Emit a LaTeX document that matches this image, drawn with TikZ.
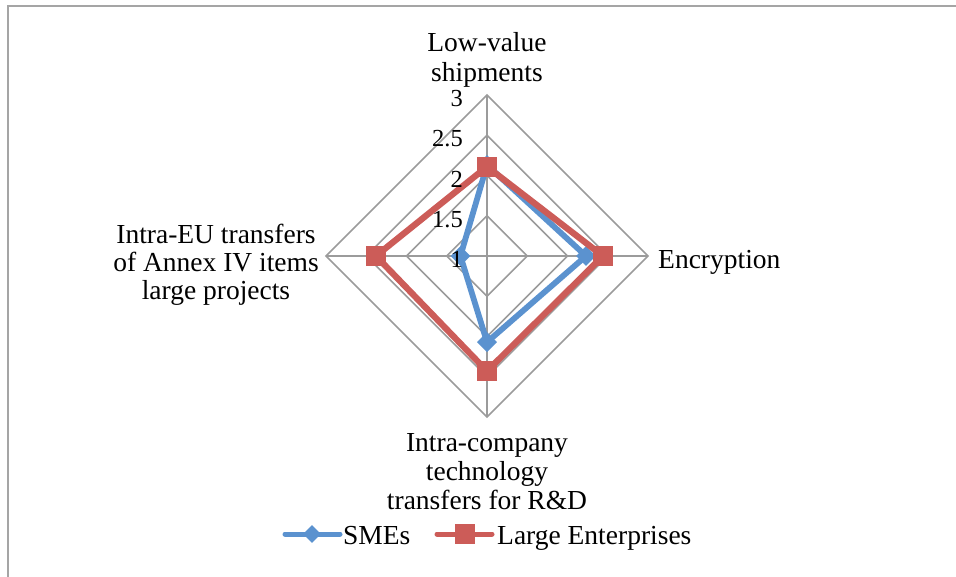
\documentclass[tikz,border=0pt]{standalone}
\usepackage{fontspec}
\setmainfont{Liberation Serif}
\usetikzlibrary{shapes.geometric}
\definecolor{gridgray}{RGB}{155,155,155}
\definecolor{framegray}{RGB}{165,165,165}
\definecolor{smeblue}{RGB}{91,146,207}
\definecolor{largered}{RGB}{204,92,88}
\begin{document}
\begin{tikzpicture}[x=1pt,y=-1pt,
  grid/.style={draw=gridgray, line width=1.6pt},
  axislabel/.style={anchor=base, inner sep=0pt, font=\fontsize{27.5}{30}\selectfont},
  ticklabel/.style={anchor=east, inner sep=0pt, font=\fontsize{24.5}{24.5}\selectfont},
  smeline/.style={draw=smeblue, line width=5.8pt, line join=round, line cap=round},
  largeline/.style={draw=largered, line width=6.3pt, line join=round, line cap=round},
  smemark/.style={diamond, aspect=1, fill=smeblue, inner sep=0pt, minimum width=20pt, minimum height=20pt},
  largemark/.style={rectangle, fill=largered, inner sep=0pt, minimum size=20pt}]
\useasboundingbox (0,0) rectangle (956,577);
% outer chart frame (only top and left edges fall inside the page)
\draw[framegray, line width=2pt] (7.5,580) -- (7.5,6.5) -- (960,6.5);

% radar centre and scale: one unit of value = 80.5pt
\def\cx{487}\def\cy{256}\def\u{80.5}
\coordinate (C) at (\cx,\cy);

% grid rings for 1.5, 2, 2.5, 3
\foreach \v in {1.5,2,2.5,3}{
  \pgfmathsetmacro\r{(\v-1)*\u}
  \draw[grid] (\cx,\cy-\r) -- (\cx+\r,\cy) -- (\cx,\cy+\r) -- (\cx-\r,\cy) -- cycle;
}
% spokes
\pgfmathsetmacro\R{2*\u}
\coordinate (tN) at (\cx,\cy-\R);
\coordinate (tE) at (\cx+\R,\cy);
\coordinate (tS) at (\cx,\cy+\R);
\coordinate (tW) at (\cx-\R,\cy);
\draw[grid] (C) -- (tN) (C) -- (tE) (C) -- (tS) (C) -- (tW);

% SMEs series
\coordinate (s1) at (\cx,{\cy-(2.13-1)*\u});
\coordinate (s2) at ({\cx+(2.23-1)*\u},\cy);
\coordinate (s3) at (\cx,{\cy+(2.07-1)*\u});
\coordinate (s4) at ({\cx-(1.33-1)*\u},\cy);
\draw[smeline] (s1) -- (s2) -- (s3) -- (s4) -- cycle;
\foreach \p in {s1,s2,s3,s4} \node[smemark] at (\p) {};

% Large Enterprises series
\coordinate (l1) at (\cx,{\cy-(2.11-1)*\u});
\coordinate (l2) at ({\cx+(2.44-1)*\u},\cy);
\coordinate (l3) at (\cx,{\cy+(2.43-1)*\u});
\coordinate (l4) at ({\cx-(2.38-1)*\u},\cy);
\draw[largeline] (l1) -- (l2) -- (l3) -- (l4) -- cycle;
\foreach \p in {l1,l2,l3,l4} \node[largemark] at (\p) {};

% scale labels, printed over the series
\foreach \v/\t in {1/1,1.5/1.5,2/2,2.5/2.5,3/3}{
  \node[ticklabel] (tick\t) at (463,{\cy-(\v-1)*\u+3.5}) {\t};
}

% axis labels
\node[axislabel] (lowA) at (487,51.7) {Low-value};
\node[axislabel] (lowB) at (487,81.7) {shipments};
\node[axislabel, anchor=base west] (enc) at (658,268.3) {Encryption};
\node[axislabel] (euA) at (216,243.5) {Intra-EU transfers};
\node[axislabel] (euB) at (216,271.5) {of Annex IV items};
\node[axislabel] (euC) at (216,299.5) {large projects};
\node[axislabel] (rdA) at (487,451.7) {Intra-company};
\node[axislabel] (rdB) at (487,480) {technology};
\node[axislabel] (rdC) at (487,509) {transfers for R\&D};

% legend
\coordinate (legS1) at (285,534);
\coordinate (legS2) at (340,534);
\draw[smeline, line width=5pt] (legS1) -- (legS2);
\node[smemark, minimum width=18pt, minimum height=18pt] (legSM) at (312,534) {};
\node[axislabel, anchor=base west] (legSt) at (343,544) {SMEs};
\coordinate (legL1) at (437,534);
\coordinate (legL2) at (492,534);
\draw[largeline, line width=5pt] (legL1) -- (legL2);
\node[largemark] (legLM) at (464.5,534) {};
\node[axislabel, anchor=base west] (legLt) at (497,544) {Large Enterprises};
\end{tikzpicture}
\end{document}
